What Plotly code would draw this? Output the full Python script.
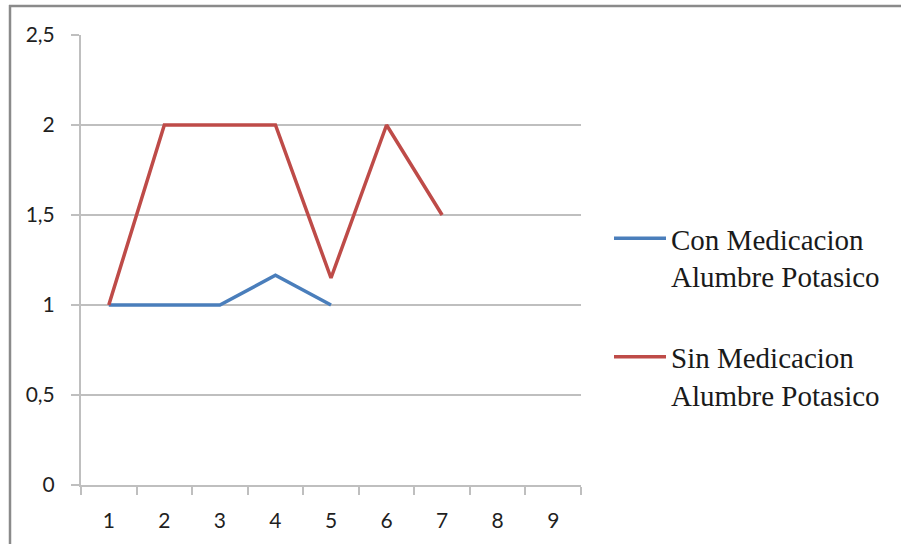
import plotly.graph_objects as go

categories = ["1", "2", "3", "4", "5", "6", "7", "8", "9"]
con_x = ["1", "2", "3", "4", "5"]
con_y = [1, 1, 1, 1.165, 1]
sin_x = ["1", "2", "3", "4", "5", "6", "7"]
sin_y = [1, 2, 2, 2, 1.15, 2, 1.5]
name_con = "Con Medicacion<br>Alumbre Potasico"
name_sin = "Sin Medicacion<br>Alumbre Potasico"

W, H = 901, 544
# screen coordinates of the plot area
SX0, SX1, SY0, SY1 = 81, 581, 35, 485
L, T, R, B = SX0, SY0, W - SX1, H - SY1

fig = go.Figure()
fig.add_trace(go.Scatter(x=con_x, y=con_y, mode="lines", name=name_con,
                         line=dict(color="#4a7ebb", width=3.5), legendgroup="a"))
fig.add_trace(go.Scatter(x=sin_x, y=sin_y, mode="lines", name=name_sin,
                         line=dict(color="#be4b48", width=3.5), legendgroup="b"))

pw, ph = SX1 - SX0, SY1 - SY0
def px(x):
    return (x - SX0) / pw
def py(y):
    return (SY1 - y) / ph

tickfont = dict(family="Lato", size=21, color="#1f1f1f")
fig.update_layout(
    width=W, height=H,
    margin=dict(l=L, r=R, t=T, b=B, pad=0),
    paper_bgcolor="white", plot_bgcolor="white",
    separators=", ",
    showlegend=True,
    legend=dict(x=px(609), y=py(213), xanchor="left", yanchor="top", valign="top",
                font=dict(family="Liberation Serif", size=29, color="#1a1a1a"),
                tracegroupgap=40, itemwidth=52, bgcolor="rgba(0,0,0,0)"),
    xaxis=dict(type="category", categoryorder="array", categoryarray=categories,
               range=[-0.5, 8.5], tickson="boundaries", ticks="outside", ticklen=8,
               tickcolor="#bfbfbf", tickwidth=1.5, ticklabelstandoff=16,
               showline=True, linecolor="#bfbfbf", linewidth=2,
               showgrid=False, zeroline=False, tickfont=tickfont),
    yaxis=dict(range=[0, 2.5], dtick=0.5, tick0=0, ticks="outside", ticklen=8,
               tickcolor="#bfbfbf", tickwidth=1.5, ticklabelstandoff=12,
               showline=True, linecolor="#bfbfbf", linewidth=2,
               showgrid=True, gridcolor="#bfbfbf", gridwidth=1.5, zeroline=False,
               tickfont=tickfont),
    shapes=[
        dict(type="line", xref="paper", yref="paper", x0=px(9), x1=px(W + 20), y0=py(6), y1=py(6),
             line=dict(color="#8a8a8a", width=2.5)),
        dict(type="line", xref="paper", yref="paper", x0=px(10), x1=px(10), y0=py(5), y1=py(H + 20),
             line=dict(color="#8a8a8a", width=2.5)),
    ],
)

fig.write_html("out.html", config={"displayModeBar": False},
               post_script="document.body.style.margin='0px';")
